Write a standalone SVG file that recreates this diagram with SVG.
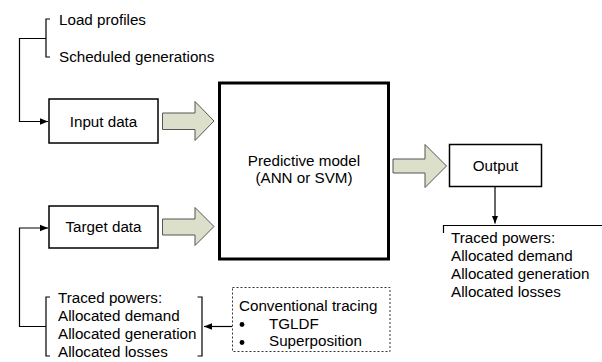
<svg xmlns="http://www.w3.org/2000/svg" width="602" height="362" viewBox="0 0 602 362">
  <style>
    text { font-family: "Liberation Sans", Arial, sans-serif; font-size: 15.2px; fill: #000; }
    .mid { text-anchor: middle; }
    .box { fill: #fff; stroke: #000; stroke-width: 1.5; }
    .model { fill: #fff; stroke: #000; stroke-width: 3; }
    .dotted { fill: #fff; stroke: #333; stroke-width: 1; stroke-dasharray: 2 2; }
    .wire { fill: none; stroke: #000; stroke-width: 1.2; }
    .block { fill: #dcdfc9; stroke: #555; stroke-width: 1; }
  </style>
  <defs>
    <marker id="tip" viewBox="0 0 10 10" refX="10" refY="5" markerWidth="8" markerHeight="8" markerUnits="userSpaceOnUse" orient="auto">
      <path d="M0,1 L10,5 L0,9 Z" fill="#000"/>
    </marker>
  </defs>

  <rect width="602" height="362" fill="#fff"/>

  <!-- connectors -->
  <g id="connectors">
    <!-- input bracket and feed into Input data -->
    <path class="wire" d="M50,19 H46 V57 H50"/>
    <path class="wire" d="M46,38.5 H19.5 V121.5 H48" marker-end="url(#tip)"/>
    <!-- traced-powers bracket feeding Target data -->
    <path class="wire" d="M50,297 H46 V356 H50"/>
    <path class="wire" d="M197.5,297 H202 V356 H197.5"/>
    <path class="wire" d="M46,326.5 H19.5 V228 H48" marker-end="url(#tip)"/>
    <!-- conventional tracing to traced powers -->
    <path class="wire" d="M232,326.5 H204" marker-end="url(#tip)"/>
    <!-- output to results -->
    <path class="wire" d="M495,187 V223.5" marker-end="url(#tip)"/>
    <path class="wire" d="M443.5,233 V225.5 H602"/>
    <!-- block arrows -->
    <path class="block" d="M162.5,113 H195 V101.5 L214,121 L195,140.5 V129.5 H162.5 Z"/>
    <path class="block" d="M162.5,219 H195 V207.5 L214,226.5 L195,245.5 V235 H162.5 Z"/>
    <path class="block" d="M393,159 H425 V144.5 L446.5,166 L425,187.5 V173 H393 Z"/>
  </g>

  <g id="input-list">
    <text x="59" y="25">Load profiles</text>
    <text x="59" y="62">Scheduled generations</text>
  </g>

  <g id="input-data">
    <rect class="box" x="49" y="99" width="109" height="44"/>
    <text class="mid" x="103.5" y="126.5">Input data</text>
  </g>

  <g id="target-data">
    <rect class="box" x="49" y="206" width="109" height="42"/>
    <text class="mid" x="103.5" y="232">Target data</text>
  </g>

  <g id="predictive-model">
    <rect class="model" x="219.5" y="83" width="169" height="176"/>
    <text class="mid" x="304" y="166">Predictive model</text>
    <text class="mid" x="304" y="183">(ANN or SVM)</text>
  </g>

  <g id="output">
    <rect class="box" x="449.5" y="144.5" width="92" height="42" stroke-width="1.3"/>
    <text class="mid" x="495.5" y="171">Output</text>
  </g>

  <g id="output-results">
    <text x="451" y="243">Traced powers:</text>
    <text x="451" y="261">Allocated demand</text>
    <text x="451" y="279">Allocated generation</text>
    <text x="451" y="297">Allocated losses</text>
  </g>

  <g id="target-results">
    <text x="58" y="303">Traced powers:</text>
    <text x="58" y="321">Allocated demand</text>
    <text x="58" y="339">Allocated generation</text>
    <text x="58" y="356.5">Allocated losses</text>
  </g>

  <g id="conventional-tracing">
    <rect class="dotted" x="232.5" y="287.5" width="157.5" height="64"/>
    <text x="239" y="311">Conventional tracing</text>
    <circle cx="242" cy="324.5" r="2.4" fill="#000"/>
    <text x="269" y="328.5">TGLDF</text>
    <circle cx="242" cy="342.5" r="2.4" fill="#000"/>
    <text x="269" y="346">Superposition</text>
  </g>
</svg>
